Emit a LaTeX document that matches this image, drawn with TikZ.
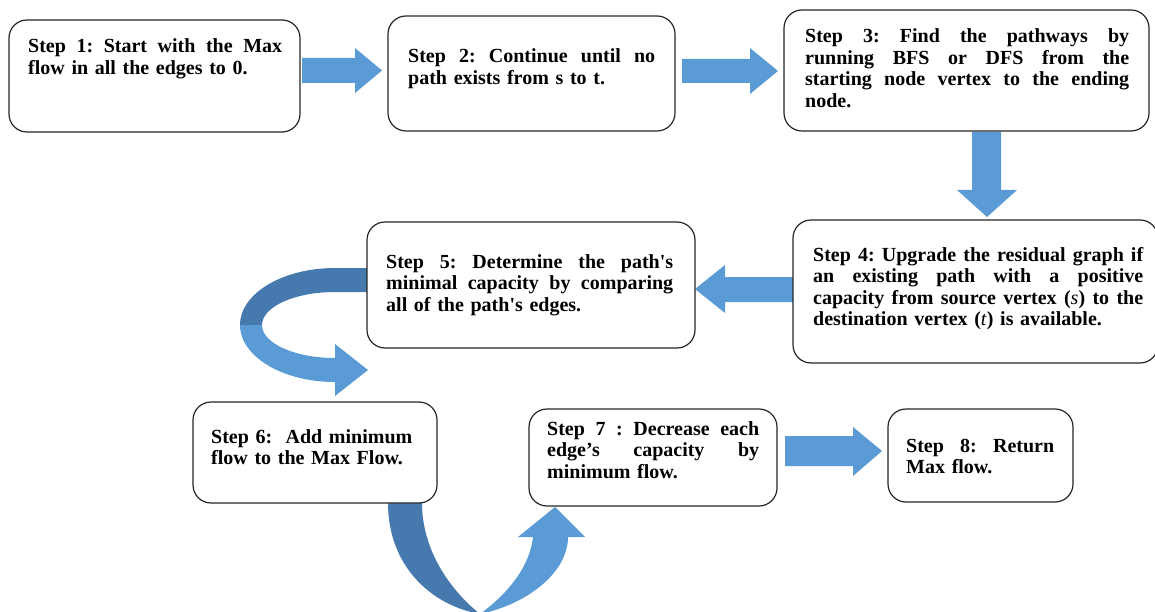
\documentclass[tikz,border=0pt]{standalone}
\usepackage{fontspec}
\setmainfont{Liberation Serif}
\definecolor{flowblue}{HTML}{5B9BD5}
\definecolor{flowdark}{HTML}{467AAE}
\definecolor{boxline}{HTML}{262626}
% a line of the given width whose word spaces stretch to fill it
\newcommand{\jline}[2]{\leavevmode\hbox to #1{\spaceskip=0.25em plus 1fil\relax #2}}
\begin{document}
\frenchspacing
\begin{tikzpicture}[x=1pt,y=-1pt,
  stepbox/.style={draw=boxline, line width=1.2pt, rounded corners=18pt, fill=white, inner sep=0pt},
  steptext/.style={anchor=base west, inner sep=0pt, align=left,
    font=\fontsize{20}{21.5}\selectfont\bfseries},
  blockarrow/.style={fill=flowblue, draw=none},
  backarrow/.style={fill=flowdark, draw=none}]
\useasboundingbox (0,0) rectangle (1155,612);

% straight block arrows
\fill[blockarrow] (302,58) -- (355,58) -- (355,48) -- (382,70.5) -- (355,93) -- (355,83) -- (302,83) -- cycle;
\fill[blockarrow] (682,59) -- (750,59) -- (750,48) -- (778,71) -- (750,94) -- (750,83) -- (682,83) -- cycle;
\fill[blockarrow] (972,132) -- (1001,132) -- (1001,190) -- (1017,190) -- (987,217) -- (957,190) -- (972,190) -- cycle;
\fill[blockarrow] (793,277) -- (725,277) -- (725,265) -- (695,289) -- (725,313) -- (725,302) -- (793,302) -- cycle;
\fill[blockarrow] (785,436) -- (853,436) -- (853,427) -- (882,451) -- (853,476) -- (853,466) -- (785,466) -- cycle;

% looping ribbon arrow from step 5 to step 6
\fill[backarrow] (368,268) -- (335,268) .. controls (282.6,268) and (240,293.5) .. (240,325)
  -- (262,325) .. controls (262,306.8) and (294.7,292) .. (335,292) -- (368,292) -- cycle;
\fill[blockarrow] (240,325) .. controls (240,356.5) and (282.6,382) .. (335,382)
  -- (335,396) -- (368,370) -- (335,344) -- (335,358)
  .. controls (294.7,358) and (262,343.2) .. (262,325) -- cycle;

% U-turn ribbon arrow from step 6 to step 7
\fill[backarrow] (388,503) .. controls (388,565) and (430,605) .. (480,614)
  .. controls (450,590) and (422,550) .. (422,503) -- cycle;
\fill[blockarrow] (480,614) .. controls (528,604) and (568,572) .. (568,537)
  -- (585,537) -- (555,507) -- (518,537) -- (533,537)
  .. controls (530,565) and (510,592) .. (480,614) -- cycle;

% step boxes
\node[stepbox, minimum width=291pt, minimum height=112pt] (b1) at (154.5,76) {};
\node[stepbox, minimum width=287pt, minimum height=115pt] (b2) at (531.5,73.5) {};
\node[stepbox, minimum width=365pt, minimum height=121pt] (b3) at (966.5,70.5) {};
\node[stepbox, minimum width=365pt, minimum height=143pt] (b4) at (975.5,291.5) {};
\node[stepbox, minimum width=328pt, minimum height=126pt] (b5) at (531,285) {};
\node[stepbox, minimum width=244pt, minimum height=101pt] (b6) at (315,452.5) {};
\node[stepbox, minimum width=248pt, minimum height=97pt] (b7) at (653,457.5) {};
\node[stepbox, minimum width=185pt, minimum height=93pt] (b8) at (980.5,455.5) {};

% step texts
\node[steptext, text width=254pt] (t1) at (28,53)
  {\jline{254pt}{Step 1: Start with the Max}\\flow in all the edges to 0.};
\node[steptext, text width=247pt] (t2) at (408,63)
  {\jline{247pt}{Step 2: Continue until no}\\path exists from s to t.};
\node[steptext, text width=324pt] (t3) at (805,43)
  {\jline{324pt}{Step 3: Find the pathways by}\\\jline{324pt}{running BFS or DFS from the}\\\jline{324pt}{starting node vertex to the ending}\\node.};
\node[steptext, text width=330pt] (t4) at (813,261)
  {\jline{330pt}{Step 4: Upgrade the residual graph if}\\\jline{330pt}{an existing path with a positive}\\\jline{330pt}{capacity from source vertex (\textnormal{\itshape s}) to the}\\destination vertex (\textnormal{\itshape t}) is available.};
\node[steptext, text width=287pt] (t5) at (386,268)
  {\jline{287pt}{Step 5: Determine the path\textquotesingle s}\\\jline{287pt}{minimal capacity by comparing}\\all of the path\textquotesingle s edges.};
\node[steptext, text width=215pt] (t6) at (211,443)
  {Step 6:\ \ Add minimum\\flow to the Max Flow.};
\node[steptext, text width=212pt] (t7) at (547,435)
  {\jline{212pt}{Step 7 : Decrease each}\\\jline{212pt}{edge’s capacity by}\\minimum flow.};
\node[steptext, text width=148pt] (t8) at (906,452)
  {\jline{148pt}{Step 8: Return}\\Max flow.};
\end{tikzpicture}
\end{document}
